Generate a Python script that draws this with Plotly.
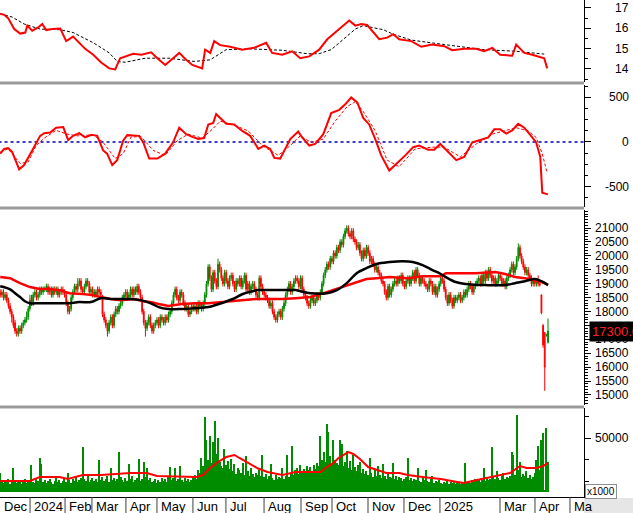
import plotly.graph_objects as go

# ---------------- DATA (prices in hundreds of VND, volume in thousands of x1000 units) ----------------
opens = [187,186,187,185,186, 184,182,180,178,176, 173,172,174, 173,175,176,177, 178,181,185,183,
 186,187,185,186,188,187, 188,188,189,187,188,186, 188,187,188,186,187,188,187, 186,183,180,
 181,185,187,189,188,190,191,188, 187,189,191,190,187,188, 186,187,186,188,187, 185,179,
 177,175,173,176,178, 175,179,181,180,182, 183,185,186,187,185,186,188, 186,188,187,189,187,
 185,180,176,174, 176,178,175,173, 175,176,177,175,178,177,176,178,177,179,
 180,183,186,188,185,184,187, 186,183,181,182,179,180, 182,181,182,180,183,182,181,
 183,186,190,196,192,188,194,191,189,197, 195,192,190,194,191,189,192,193,190,188,191,
 190,192,189,191,193,188,190,187,189, 190,188,186,185,192,189,187,186,
 185,184,182,183,180,178,177,179,180,178, 181,183,186,188,190,187,189,191, 192,191,189,192,
 188,186,185,183,182,184,185,183,184,186,185, 187,190,193,195,197,196,199,198,
 201,200,203,202,205,204,207,209,210,208,207,209, 206,205,203,204,201,199,202,200,203,201,
 198,199,197,195,196,194, 193,191,190,187,185,189,186,188, 190,191,190,192,191,193,190,189,191,192,
 190,192,194,191,195,193,190,192, 191,190,189,188,191,190,187,189,186,188,190,
 192,191,188,185,183,186,184,182, 185,184,185,186,184,185,187, 186,188,190,189,187,189,
 190,191,192,190,193,191,194,192,195,193, 191,192,190,191,193,192,190,191,189,
 192,193,195,197,194,196, 199,203,200, 198,196,194,195,193,192,190, 191,190,191,190,
 186,175,172.5,171.5,169]
closes = [186,187,185,186,184, 182,180,178,175,173, 172,174,173, 175,176,177,178, 181,184,183,186,
 187,185,186,188,187,188, 188,189,187,188,186,188, 187,188,186,187,188,187,186, 183,180,181,
 185,187,189,188,190,191,188,187, 189,191,190,187,188,186, 187,186,188,187,186, 179,177,
 175,173,176,178,175, 179,181,180,182,183, 185,186,187,185,186,188,186, 188,187,189,187,185,
 180,176,174,176, 178,175,173,175, 176,177,175,178,177,176,178,177,179,180,
 183,186,188,185,184,187,186, 183,181,182,179,180,182, 181,182,180,183,182,181,183,
 186,190,196,192,188,194,191,189,197,195, 192,190,194,191,189,192,193,190,188,191,190,
 192,189,191,193,188,190,187,189,190, 188,186,185,192,189,187,186,185,
 184,182,183,180,178,177,179,180,178,181, 183,186,188,190,187,189,191,192, 191,189,192,188,
 186,185,183,182,184,185,183,184,186,185,187, 190,193,195,197,196,199,198,201,
 200,203,202,205,204,207,209,210,208,207,209,206, 205,203,204,201,199,202,200,203,201,198,
 199,197,195,196,194,193, 191,190,187,185,189,186,188,190, 191,190,192,191,193,190,189,191,192,190,
 192,194,191,195,193,190,192,191, 190,189,188,191,190,187,189,186,188,190,192,
 191,188,185,183,186,184,182,185, 184,185,186,184,185,187,186, 188,190,189,187,189,190,
 191,192,190,193,191,194,192,195,193,191, 192,190,191,193,192,190,191,189,192,
 193,195,197,194,196,199, 203,200,198, 196,194,195,193,192,190,191, 190,191,190,189.5,
 179.5,168,160,171.5,173]
highs = [188,188,188,187,187, 185,183,181,179,177, 174,175,175, 176,177,178,180, 182,186,186,187,
 188,188,187,189,189,189, 189,190,190,189,189,189, 189,189,189,188,189,189,188, 187,184,182,
 186,188,190,190,192,192,192,189, 190,192,192,191,189,189, 188,188,189,189,188, 186,180,
 178,176,177,179,179, 180,182,182,183,184, 186,187,188,188,187,189,189, 189,189,190,190,188,
 186,181,177,177, 179,179,176,176, 177,178,178,179,179,178,179,179,180,181,
 184,187,189,189,186,188,188, 187,184,183,183,181,183, 183,183,183,184,184,183,184,
 187,191,197,197,193,195,195,192,199,198, 196,193,195,195,192,193,194,194,191,192,192,
 193,193,192,194,194,191,191,190,191, 191,189,187,193,193,190,188,187,
 186,185,184,184,181,179,180,181,181,182, 184,187,189,191,191,190,192,193, 193,192,193,193,
 189,187,186,184,185,186,186,185,187,187,188, 191,194,196,198,198,200,200,202,
 202,204,204,206,206,208,210,211,211,209,210,210, 207,206,205,205,202,203,203,204,204,202,
 200,200,198,197,197,195, 194,192,191,188,190,190,189,191, 192,192,193,193,194,194,191,192,193,193,
 193,195,195,196,196,194,193,193, 192,191,190,192,192,191,190,190,189,191,193,
 193,192,189,186,187,187,185,186, 186,186,187,187,186,188,188, 189,191,191,190,190,191,
 192,193,193,194,194,195,195,196,196,194, 193,193,192,194,194,193,192,192,193,
 194,196,198,198,197,200, 204.5,204,201, 199,197,196,196,194,193,192, 192,192,193,191,
 186,175.5,172.5,172,177.5]
lows = [185,185,184,184,183, 181,179,176,174,172, 171,171,172, 172,174,175,176, 177,180,182,182,
 185,184,184,185,186,186, 187,187,186,186,185,185, 186,186,185,185,186,186,185, 182,179,179,
 180,184,186,187,187,189,187,186, 186,188,189,186,186,185, 185,185,185,186,185, 178,176,
 174,171,172,175,174, 174,178,179,179,181, 182,184,185,184,184,185,185, 185,186,186,186,184,
 179,175,171,173, 175,174,172,172, 174,175,174,174,176,175,175,176,176,178,
 179,182,185,184,183,183,185, 182,180,180,178,178,179, 180,180,179,179,181,180,180,
 182,185,189,191,187,187,190,188,188,194, 191,189,189,190,188,188,191,189,187,187,189,
 189,188,188,190,187,187,186,186,188, 187,185,184,184,188,186,185,184,
 183,181,181,179,177,176,176,178,177,177, 180,182,185,187,186,186,188,190, 190,188,188,187,
 185,184,182,181,181,183,182,182,183,184,184, 186,189,192,194,195,195,197,197,
 199,199,201,201,203,203,206,208,207,206,206,205, 204,202,202,200,198,198,199,199,200,197,
 197,196,194,194,193,192, 190,189,186,184,184,185,185,187, 189,189,189,190,190,189,188,188,190,189,
 189,191,190,190,192,189,189,190, 189,188,187,187,189,186,186,185,185,187,189,
 190,187,184,182,182,183,181,181, 183,183,184,183,183,184,185, 185,187,188,186,186,188,
 189,190,189,189,190,190,191,191,192,190, 190,189,189,190,191,189,189,188,188,
 191,192,194,193,193,195, 198,199,197, 195,193,193,192,191,189,189, 189,189,189,189,
 179,167,151.5,171,168.5]
volumes = [17.6,10,8,11,9,12,7,10,22,9, 8,11,9,7,10,12,8,9,11,25, 9,8,12,10,31.5,26,9,11,8,10,
 12,9,7,10,14,9,11,8,10,13, 9,18,11,8,12,10,14,9,11,13, 41.7,12,10,15,9,11,13,10,12,9,
 29.6,11,14,10,12,15,9,22,11,13, 10,12,37,14,11,9,13,10,26,12, 15,9,11,13,30.5,10,12,28,14,22,
 11,13,9,10,12,8,11,9,13,10, 12,9,14,23,11,13,22,10,12,24, 11,9,13,10,12,9,11,14,16,12,
 20,18,31.5,24,69.5,48,30,52,27,46, 66,35,50,28,24,22,40,25,29,21, 31,19,26,17,22,20,18,27,16,33.5,
 19,15,22,17,14,18,16,20,15,34, 14,17,12,15,26,13,11,16,12,14, 13,22,12,15,34,14,18,43,16,20,
 22,17,25,19,21,18,24,20,23,19, 25,21,27,24,52,30,37,28,63,56, 33,26,48,30,27,25,48,44,24,28,
 38,22,29,20,34.5,23,19,25,28,18, 21,17,19,16,31.5,18,14,20,15,24, 16,13,26,15,12,17,14,13,26.5,12,
 15,11,14,13,10,12,14,31.5,11,13, 10,12,11,22,10,9,13,11,20,10, 9,12,14.5,8,10,9,11,8,7,9,
 8,11,7,9,8,10,7,9,8,7, 9,8,26.5,9,10,8,11,9,12.5,10, 12,9,11,22,10,13,11,12,42,14,
 12,19,13,11,15,17.5,12,14,13,15, 37,34,16,71,20,28,14,17,15,19, 13,16,12,14,18,30,43,20,48,55,
 2,59,28]

# moving averages (bar index, value)
ma_black_idx = [0,6,9,12,15,18,24,39,42,48,55,61,67,73,79,85,91,96,102,110,118,126,134,141,147,153,156,165,
 179,182,188,198,204,210,216,222,228,236,244,250,256,262,267,270,276,282,294,306,312,318,324,328,332]
ma_black = [18910,18800,18660,18520,18370,18300,18300,18300,18300,18340,18340,18480,18450,18450,18450,18410,
 18300,18160,18090,18090,18120,18160,18300,18450,18630,18730,18770,18770,18770,18730,18660,18660,18770,
 19020,19380,19560,19710,19780,19810,19780,19670,19490,19350,19240,19060,18990,18950,18950,19020,19090,
 19170,19090,18950]
ma_red_idx = [0,6,12,18,24,30,36,42,50,56,61,67,73,81,87,91,96,102,110,118,126,134,144,155,162,171,179,188,
 196,204,210,216,222,228,236,247,256,267,270,288,300,306,312,318,324,328,332]
ma_red = [19240,19200,19020,18880,18810,18810,18770,18660,18630,18590,18520,18450,18410,18450,18370,18340,
 18270,18200,18270,18300,18300,18340,18410,18450,18450,18450,18480,18520,18660,18810,18950,19060,19170,
 19200,19240,19200,19270,19270,19380,19380,19420,19350,19240,19200,19130,19060,18970]

top_idx = [0,2.4,4.8,8.5,12.1,15.2,16.4,19.4,23,25.5,27.9,31.5,36.4,40,44.2,47.9,51.5,56.4,61.2,66.1,
 69.7,72.7,75.8,80.6,85.5,91.5,95.2,100,104.8,108.5,112.7,116.4,122.4,124.2,127.3,129.7,133.3,139.4,146.7,
 153.9,161.2,164.8,170.9,177,181.8,187.3,193.3,198.2,203,207.9,211.5,215.2,218.8,222.4,226.1,229.7,234.5,
 238.2,241.8,249.1,255.2,261.8,269.1,273.9,281.2,288.5,293.3,298.2,303,310.3,312.7,317.6,322.4,327.3,329.7,331.5]
top_val = [16.71,16.66,16.5,15.96,15.74,15.79,16.13,15.88,16.04,16.21,15.91,15.96,15.99,15.37,15.59,15.29,
 14.99,14.70,14.32,14.03,13.98,14.53,14.62,14.75,14.70,14.82,14.53,14.20,14.53,14.79,14.45,14.2,14.03,14.95,
 14.79,15.37,15.17,15.09,14.95,15.04,15.29,14.79,14.70,14.87,14.53,14.62,14.95,15.46,15.79,16.13,16.38,16.13,
 16.21,16.16,15.79,15.46,15.54,15.71,15.46,15.37,15.09,15.2,15.12,14.92,14.99,14.99,14.87,15.04,14.70,14.65,
 15.2,14.79,14.7,14.58,14.53,14.03]
top_ma_idx = [0,7.3,14.5,24.2,36.4,44.2,56.4,66.1,70.9,75.8,87.9,102.4,117.6,127.3,137,151.5,170.9,186.1,
 193.3,200.6,210.3,215.2,220,232.1,238.2,249.1,269.1,293.3,312.7,329.7]
top_ma = [16.71,16.55,16.21,15.96,15.93,15.79,15.29,14.79,14.37,14.33,14.53,14.53,14.37,14.45,14.95,14.99,
 14.92,14.75,14.75,14.95,15.62,15.96,16.13,15.93,15.71,15.42,15.20,14.95,14.87,14.73]

macd_idx = [0,2.4,4.8,7.3,11.5,14.5,19.4,24.2,26.7,30.3,33.9,38.2,41.2,44.2,47.9,51.5,55.2,58.8,62.4,64.8,
 67.9,70.9,74.5,77,84.2,86.7,90.3,95.2,100,104.8,108.5,112.7,116.4,120,123.6,126.1,129.1,130.9,133.3,137,
 141.8,146.7,151.5,156.4,160,163.6,166.1,169.7,173.3,175.8,180.6,183,187.3,190.9,195.8,200.6,205.5,209.1,
 212.7,216.4,220,223.6,227.3,230.9,235.8,240.6,245.5,250.3,253.9,259.4,263,266.7,271.5,276.4,281.2,286.1,
 290.9,295.8,299.4,303,306.7,310.3,313.9,317.6,321.2,324.8,327.3,328.5,332]
macd_val = [-131,-77,-69,-113,-307,-259,-95,69,99,106,161,168,22,69,99,51,80,69,-95,-131,-259,-204,15,77,69,
 -4,-186,-186,-131,-4,161,88,58,33,44,197,215,314,270,204,197,124,69,-77,-40,-77,-179,-186,-58,33,117,51,
 -40,-22,88,325,361,423,500,445,270,197,33,-150,-321,-241,-150,-58,-40,-88,-88,-22,-113,-204,-168,-4,22,51,
 142,142,95,131,204,161,80,-4,-168,-569,-588]
sig_idx = [0,4.8,12.1,17,21.8,26.7,33.9,40.6,46.7,56.4,62.4,69.7,74.5,79.4,85.5,92.7,100,107.3,113.9,122.4,
 128.5,133.3,141.8,150.3,158.8,168.5,175.8,181.8,188.5,195.8,203,210.3,215.2,220,227.3,234.5,241.8,251.5,
 261.8,269.1,278.8,288.5,298.2,305.5,312.7,320,324.8,328.5,331.5]
sig_val = [-113,-77,-241,-223,-40,44,131,88,69,80,-4,-186,-131,58,58,-95,-150,15,88,44,142,234,190,124,-40,
 -150,-40,69,-4,33,234,398,453,343,124,-204,-277,-77,-58,-58,-168,-22,88,124,161,124,51,-131,-350]

vol_ma_idx = [0,18,24,36,41,50,61,71,79,89,95,119,123,127,132,137,142,145,150,156,162,171,179,182,194,198,
 202,205,211,214,218,223,228,234,242,247,256,267,277,281,289,297,303,309,315,319,325,329,332]
vol_ma = [10.2,10.2,13.9,13.9,12,15.7,15.7,16.7,17.6,17.6,14.8,13.9,15.7,22,27.8,32.4,34.3,31.5,26.9,22,
 18.5,15.7,18.5,18.5,18.5,23.1,26.9,31.5,37,35.2,30.6,23.1,20.4,17.6,17.6,15.7,13.9,12,9.3,8.3,11.1,13.9,
 15.7,17.6,24.1,22.2,22.2,24.1,26.9]

month_labels = ["Dec", "2024", "Feb", "Mar", "Apr", "May", "Jun", "Jul", "Aug", "Sep", "Oct", "Nov",
                "Dec", "2025", "Mar", "Apr", "Ma"]
month_starts = [0, 18.1, 39.3, 55.6, 76.2, 95.0, 116.8, 136.8, 159.9, 182.3, 201.1, 222.9, 244.7, 266.5,
                302.9, 324.1, 345.3]
top_ticks = [14, 15, 16, 17]
macd_ticks = [-500, 0, 500]
price_ticks = [15000, 15500, 16000, 16500, 17000, 18000, 18500, 19000, 19500, 20000, 20500, 21000]
vol_ticks = [50000]
last_close = 17300
last_close_label = "17300.00"

# ---------------- FIGURE ----------------
n = len(closes)
idx = list(range(n))
P = lambda a: [v * 100 for v in a]
vols = [v * 1000 for v in volumes]

GREEN = "#008c00"
RED = "#ff0000"
FONT = "Liberation Sans, Arial, sans-serif"

fig = go.Figure()
# top panel
fig.add_trace(go.Scatter(x=top_ma_idx, y=top_ma, yaxis="y", mode="lines",
                         line=dict(color="black", width=1, dash="3px,2px"), hoverinfo="skip"))
fig.add_trace(go.Scatter(x=top_idx, y=top_val, yaxis="y", mode="lines",
                         line=dict(color=RED, width=2), hoverinfo="skip"))
# MACD panel
fig.add_trace(go.Scatter(x=[-1, 360], y=[0, 0], yaxis="y2", mode="lines",
                         line=dict(color="#0000a8", width=1.3, dash="3px,3px"), hoverinfo="skip"))
fig.add_trace(go.Scatter(x=sig_idx, y=sig_val, yaxis="y2", mode="lines",
                         line=dict(color=RED, width=1, dash="3px,2px"), hoverinfo="skip"))
fig.add_trace(go.Scatter(x=macd_idx, y=macd_val, yaxis="y2", mode="lines",
                         line=dict(color=RED, width=2), hoverinfo="skip"))
# price panel
fig.add_trace(go.Candlestick(x=idx, open=P(opens), high=P(highs), low=P(lows), close=P(closes),
                             yaxis="y3", whiskerwidth=0,
                             increasing=dict(line=dict(color=GREEN, width=1), fillcolor=GREEN),
                             decreasing=dict(line=dict(color=RED, width=1), fillcolor=RED),
                             hoverinfo="skip"))
fig.add_trace(go.Scatter(x=ma_red_idx, y=ma_red, yaxis="y3", mode="lines",
                         line=dict(color=RED, width=2.5), hoverinfo="skip"))
fig.add_trace(go.Scatter(x=ma_black_idx, y=ma_black, yaxis="y3", mode="lines",
                         line=dict(color="black", width=2.5, shape="spline"), hoverinfo="skip"))
# volume panel
fig.add_trace(go.Bar(x=idx, y=vols, yaxis="y4", marker=dict(color=GREEN, line=dict(width=0)),
                     width=0.75, hoverinfo="skip"))
fig.add_trace(go.Scatter(x=vol_ma_idx, y=[v * 1000 for v in vol_ma], yaxis="y4", mode="lines",
                         line=dict(color=RED, width=2), hoverinfo="skip"))

H_PLOT = 497.0
W_PLOT = 584.0
def py(px):
    return (H_PLOT - px) / H_PLOT

common_y = dict(side="right", showgrid=False, zeroline=False, showline=True, linecolor="black",
                linewidth=1, ticks="outside", ticklen=6, tickcolor="black", anchor="x",
                showticklabels=False, fixedrange=True)

fig.update_layout(
    width=633, height=513, margin=dict(l=0, r=49, t=0, b=16),
    paper_bgcolor="white", plot_bgcolor="white", showlegend=False, bargap=0,
    xaxis=dict(range=[-0.12, 353.8], showgrid=False, zeroline=False, showticklabels=False,
               showline=True, linecolor="black", ticks="", anchor="y4",
               rangeslider=dict(visible=False), fixedrange=True),
    yaxis=dict(domain=[py(82), 1.0], range=[13.36, 17.39], tickvals=top_ticks,
               minor=dict(dtick=0.5, tick0=0, ticklen=3, ticks="outside", tickcolor="black"), **common_y),
    yaxis2=dict(domain=[py(207), py(85)], range=[-730, 640], tickvals=macd_ticks,
                minor=dict(dtick=125, tick0=0, ticklen=3, ticks="outside", tickcolor="black"), **common_y),
    yaxis3=dict(domain=[py(405), py(210)], range=[14640, 21650],
                tickvals=list(range(15000, 21001, 500)),
                minor=dict(dtick=100, tick0=0, ticklen=3, ticks="outside", tickcolor="black"), **common_y),
    yaxis4=dict(domain=[0, py(408)], range=[-4630, 77800], tickvals=vol_ticks,
                minor=dict(dtick=20000, tick0=10000, ticklen=4, ticks="outside", tickcolor="black"), **common_y),
)

shapes = []
# gray panel separators
for ypx in [83, 208, 407]:
    shapes.append(dict(type="line", xref="paper", yref="paper", x0=0, x1=1, y0=py(ypx), y1=py(ypx),
                       line=dict(color="#9a9a9a", width=3), layer="above"))
# gray box bottom right
shapes.append(dict(type="rect", xref="paper", yref="paper", x0=1.0, x1=633 / W_PLOT, y0=py(513), y1=py(498),
                   fillcolor="#e6e6e6", line=dict(width=0), layer="below"))
# month separators in the time strip
for s in month_starts[1:]:
    shapes.append(dict(type="line", xref="x", yref="paper", x0=s, x1=s, y0=0, y1=py(513),
                       line=dict(color="#404040", width=1)))
fig.update_layout(shapes=shapes)

annotations = []
LBL_X = 631 / W_PLOT
def axis_labels(vals, yref, fmt):
    for v in vals:
        annotations.append(dict(x=LBL_X, y=v, xref="paper", yref=yref, text=fmt(v), showarrow=False,
                                xanchor="right", yanchor="middle",
                                font=dict(family=FONT, size=12, color="black")))
axis_labels(top_ticks, "y", lambda v: str(v))
axis_labels(macd_ticks, "y2", lambda v: str(v))
axis_labels(price_ticks, "y3", lambda v: str(v))
axis_labels(vol_ticks, "y4", lambda v: str(v))

for lab, s in zip(month_labels, month_starts):
    annotations.append(dict(x=s + 1.0, y=py(506), xref="x", yref="paper", text=lab, showarrow=False,
                            xanchor="left", yanchor="middle",
                            font=dict(family=FONT, size=13, color="black")))
annotations.append(dict(x=1.0, y=last_close, xref="paper", yref="y3", xshift=5, text=last_close_label,
                        showarrow=False, xanchor="left", yanchor="middle", bgcolor="black",
                        font=dict(family=FONT, size=13, color="#ff2020"), borderpad=2))
annotations.append(dict(x=1.0, y=py(491), xref="paper", yref="paper", xshift=1, text="x1000",
                        showarrow=False, xanchor="left", yanchor="middle", bgcolor="white",
                        bordercolor="#909090", borderwidth=1, borderpad=1,
                        font=dict(family=FONT, size=10, color="black")))
fig.update_layout(annotations=annotations)

fig.write_html("out.html", config={"displayModeBar": False},
               post_script="document.body.style.margin='0';document.body.style.padding='0';")
